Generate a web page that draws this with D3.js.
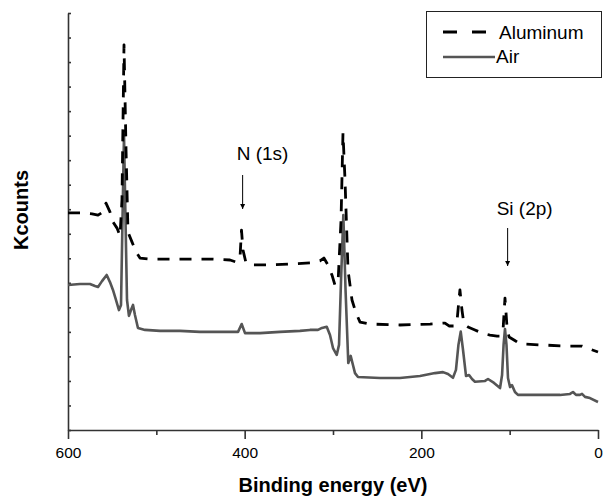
<!DOCTYPE html>
<head>
    <script src="https://d3js.org/d3.v7.min.js"></script>
    <style>
body {
  margin: 0;
  background: #fff;
  font-family: Arial, "Liberation Sans", sans-serif;
}
</style>
</head>
<body>
    <svg></svg>
</body>

<script>
    // binding energy (eV) and counts
    var alEnergy = [600, 586.4, 572.8, 566.0, 560.4, 557.0, 552.5, 549.1, 544.5, 541.1, 538.9, 536.6, 534.3, 532.1,
        527.5, 523.0, 518.5, 507.2, 484.5, 461.9, 439.3, 416.6, 409.8, 405.3, 403.6, 401.9, 398.5, 391.7, 371.4,
        348.7, 326.1, 314.8, 310.3, 305.7, 301.2, 297.8, 294.3, 290.9, 288.7, 286.4, 283.0, 278.5, 274.0, 269.4,
        258.1, 224.2, 190.2, 173.2, 168.7, 163.1, 159.7, 157.4, 156.3, 154.0, 151.8, 147.2, 139.3, 131.3, 122.3,
        114.3, 110.9, 107.5, 105.3, 103.0, 100.7, 95.1, 88.3, 65.7, 34.0, 18.1, 9.1, 0];
    var alCounts = [8.85, 8.85, 8.81, 8.76, 8.89, 9.25, 8.89, 8.48, 8.23, 7.91, 9.38, 15.70, 11.41, 8.07,
        7.66, 7.26, 7.01, 6.97, 6.97, 6.97, 6.97, 6.93, 6.85, 7.01, 8.15, 7.34, 6.81, 6.73, 6.73,
        6.77, 6.81, 6.89, 7.01, 6.73, 6.32, 5.91, 5.99, 8.56, 12.11, 10.19, 6.52, 5.30, 4.77, 4.40,
        4.32, 4.28, 4.32, 4.36, 4.24, 4.24, 4.40, 5.30, 5.71, 4.89, 4.32, 4.20, 4.08, 3.95, 3.87,
        3.83, 3.83, 4.08, 5.38, 4.20, 3.79, 3.67, 3.51, 3.47, 3.42, 3.42, 3.30, 3.18];

    var airEnergy = [600, 586.4, 575.1, 569.4, 566.0, 561.5, 556.2, 552.5, 549.1, 545.7, 542.3, 540.0, 538.3,
        536.6, 534.9, 533.2, 531.0, 528.7, 526.4, 524.2, 520.8, 512.8, 495.8, 473.2, 450.6, 427.9, 407.5, 403.4,
        399.6, 382.6, 360.0, 337.4, 326.1, 317.0, 312.5, 307.1, 303.4, 300.0, 295.8, 293.2, 290.9, 288.3, 285.8,
        282.7, 280.0, 277.4, 275.1, 271.7, 246.8, 224.2, 201.5, 184.5, 175.5, 169.8, 164.2, 160.8, 158.0, 155.4,
        152.8, 149.4, 146.0, 142.6, 139.3, 127.9, 124.5, 117.7, 110.9, 108.6, 106.9, 105.3, 103.6, 101.9, 99.6,
        97.4, 94.0, 90.6, 65.7, 43.0, 31.7, 28.3, 24.9, 20.4, 18.1, 14.7, 9.1, 0];
    var airCounts = [5.91, 5.95, 5.95, 5.87, 5.83, 6.07, 6.32, 6.03, 5.71, 5.30, 4.89, 5.10, 8.56,
        12.03, 8.56, 5.30, 4.65, 4.89, 5.10, 4.69, 4.16, 4.08, 4.04, 4.04, 4.00, 4.00, 4.00, 4.32,
        3.95, 3.95, 4.00, 4.04, 4.08, 4.08, 4.16, 4.21, 3.87, 3.34, 3.06, 3.47, 6.11, 8.76, 5.71,
        2.73, 3.02, 2.65, 2.32, 2.16, 2.12, 2.12, 2.20, 2.32, 2.36, 2.28, 2.13, 2.45, 3.47, 4.01,
        3.26, 2.20, 2.24, 2.08, 1.97, 2.00, 2.08, 1.92, 1.71, 2.24, 3.47, 4.12, 3.47, 2.12, 1.75,
        1.83, 1.55, 1.43, 1.43, 1.43, 1.47, 1.55, 1.43, 1.43, 1.47, 1.35, 1.30, 1.14];

    var xMajorTicks = [600, 400, 200, 0];
    var xMinorTicks = [500, 300, 100];
    var seriesNames = ["Aluminum", "Air"];
    var peakLabels = ["N (1s)", "Si (2p)"];
    var peakEnergy = [402.3, 102.3];

    var width = 603, height = 496;
    var plotLeft = 68, plotRight = 598, plotTop = 13, plotBottom = 430;

    var svg = d3.select('svg')
        .attr('width', width)
        .attr('height', height);

    var x = d3.scaleLinear().domain([600, 0]).range([plotLeft, plotRight]);
    var y = d3.scaleLinear().domain([0, 17]).range([plotBottom, plotTop]);

    // axes
    var xAxis = svg.append('g')
        .attr('transform', 'translate(0,' + plotBottom + ')')
        .call(d3.axisBottom(x).tickValues(xMajorTicks).tickSize(9).tickSizeOuter(0).tickFormat(d3.format('d')));
    svg.append('g')
        .attr('transform', 'translate(0,' + plotBottom + ')')
        .call(d3.axisBottom(x).tickValues(xMinorTicks).tickSize(5).tickSizeOuter(0).tickFormat(''))
        .select('.domain').remove();
    svg.append('g')
        .attr('transform', 'translate(' + plotLeft + ',0)')
        .call(d3.axisRight(y).ticks(17).tickSize(3).tickSizeOuter(0).tickFormat(''));

    svg.selectAll('.domain, .tick line').attr('stroke', '#333').attr('stroke-width', 1.6);
    xAxis.selectAll('text')
        .attr('dy', null).attr('y', 28)
        .style('font-size', '15.5px').style('fill', '#000');

    svg.append('text')
        .attr('x', (plotLeft + plotRight) / 2).attr('y', 492)
        .attr('text-anchor', 'middle')
        .style('font-size', '20px').style('font-weight', 'bold')
        .text('Binding energy (eV)');
    svg.append('text')
        .attr('transform', 'translate(28,210)rotate(-90)')
        .attr('text-anchor', 'middle')
        .style('font-size', '20px').style('font-weight', 'bold')
        .text('Kcounts');

    // spectra
    var line = d3.line()
        .x(function (d) { return x(d[0]); })
        .y(function (d) { return y(d[1]); });

    svg.append('path')
        .datum(d3.zip(airEnergy, airCounts))
        .attr('d', line)
        .attr('fill', 'none')
        .attr('stroke', '#555')
        .attr('stroke-width', 2.6)
        .attr('stroke-linejoin', 'round');

    svg.append('path')
        .datum(d3.zip(alEnergy, alCounts))
        .attr('d', line)
        .attr('fill', 'none')
        .attr('stroke', '#000')
        .attr('stroke-width', 2.8)
        .attr('stroke-dasharray', '12,10')
        .attr('stroke-linejoin', 'round');

    // arrows with peak labels
    svg.append('defs').append('marker')
        .attr('id', 'head')
        .attr('viewBox', '0 0 10 10')
        .attr('refX', 10).attr('refY', 5)
        .attr('markerWidth', 5).attr('markerHeight', 8)
        .attr('markerUnits', 'userSpaceOnUse')
        .attr('orient', 'auto')
        .append('path').attr('d', 'M0,0L10,5L0,10Z').attr('fill', '#000');

    var arrowTop = [175, 228], arrowEnd = [209, 266], labelY = [160, 215], labelDx = [-6, -11];
    peakLabels.forEach(function (lab, i) {
        var px = x(peakEnergy[i]);
        svg.append('line')
            .attr('x1', px).attr('x2', px)
            .attr('y1', arrowTop[i]).attr('y2', arrowEnd[i])
            .attr('stroke', '#000').attr('stroke-width', 1)
            .attr('marker-end', 'url(#head)');
        svg.append('text')
            .attr('x', px + labelDx[i]).attr('y', labelY[i])
            .style('font-size', '19px')
            .text(lab);
    });

    // legend
    var lg = svg.append('g');
    lg.append('rect')
        .attr('x', 426.5).attr('y', 11.5).attr('width', 175).attr('height', 66)
        .attr('fill', '#fff').attr('stroke', '#222').attr('stroke-width', 1);
    lg.append('line')
        .attr('x1', 443).attr('x2', 487).attr('y1', 32).attr('y2', 32)
        .attr('stroke', '#000').attr('stroke-width', 2.8).attr('stroke-dasharray', '14,15');
    lg.append('line')
        .attr('x1', 443).attr('x2', 495).attr('y1', 57).attr('y2', 57)
        .attr('stroke', '#555').attr('stroke-width', 2.6);
    lg.selectAll('text.leg')
        .data(seriesNames)
        .enter().append('text')
        .attr('class', 'leg')
        .attr('x', function (d, i) { return i ? 496 : 499; })
        .attr('y', function (d, i) { return 39 + i * 24; })
        .style('font-size', '19px')
        .text(function (d) { return d; });
</script>
